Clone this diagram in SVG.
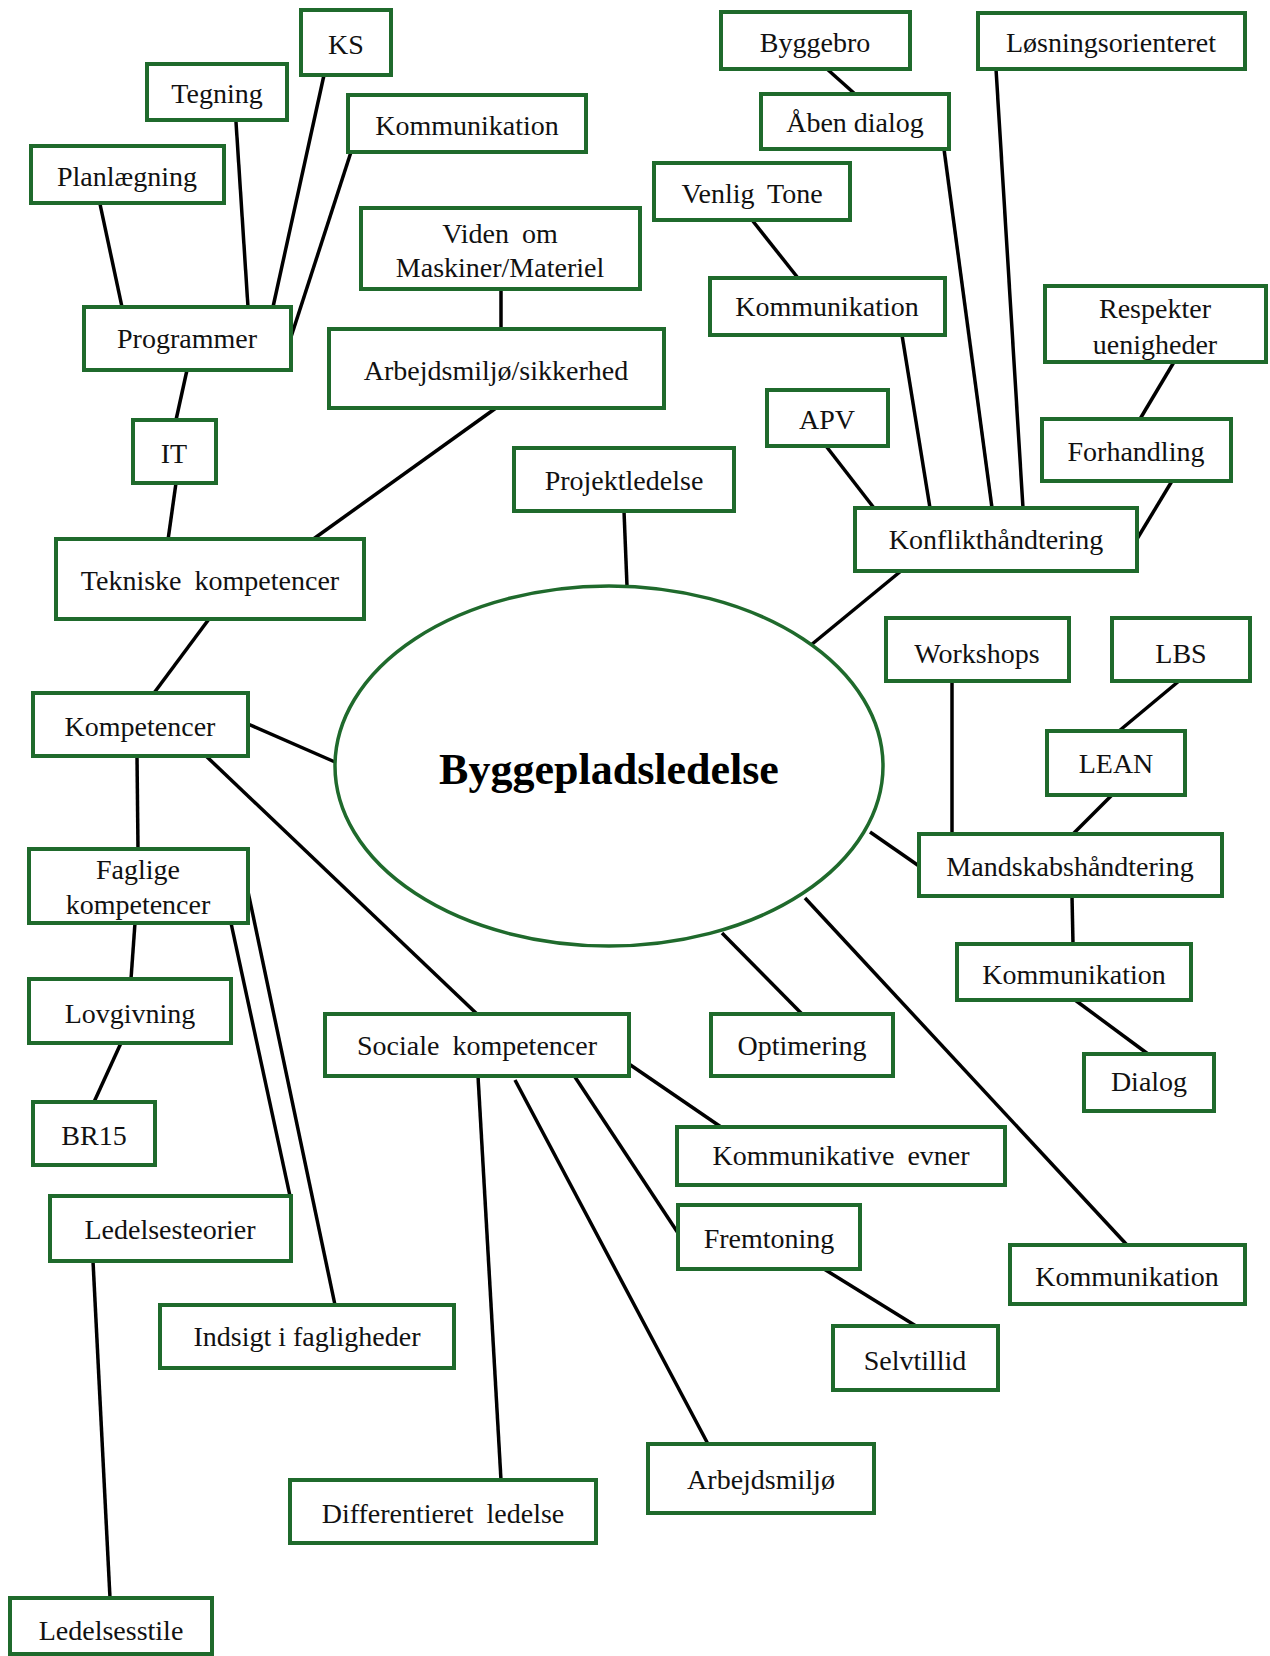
<svg xmlns="http://www.w3.org/2000/svg" width="1270" height="1656" viewBox="0 0 1270 1656">
<style>
.b{fill:#fff;stroke:#1f6a2c;stroke-width:4}
.t{font-family:"Liberation Serif","Times New Roman",serif;font-size:28px;fill:#111;text-anchor:middle}
.w{word-spacing:6px}
.c line{stroke:#000;stroke-width:3.5;stroke-linecap:butt}
</style>
<rect width="1270" height="1656" fill="#fff"/>
<g class="c" id="connectors">
<line x1="100" y1="204" x2="122" y2="307"/>
<line x1="236" y1="122" x2="248" y2="307"/>
<line x1="324" y1="75" x2="273" y2="307"/>
<line x1="351" y1="152" x2="291" y2="337"/>
<line x1="501" y1="289" x2="501" y2="330"/>
<line x1="187" y1="370" x2="176" y2="420"/>
<line x1="176" y1="483" x2="168" y2="540"/>
<line x1="496" y1="408" x2="312" y2="540"/>
<line x1="624" y1="511" x2="627" y2="586"/>
<line x1="827" y1="69" x2="855" y2="94"/>
<line x1="944" y1="149" x2="992" y2="508"/>
<line x1="996" y1="69" x2="1023" y2="508"/>
<line x1="752" y1="220" x2="798" y2="278"/>
<line x1="902" y1="335" x2="930" y2="508"/>
<line x1="1174" y1="362" x2="1140" y2="419"/>
<line x1="826" y1="446" x2="874" y2="508"/>
<line x1="1172" y1="481" x2="1137" y2="539"/>
<line x1="901" y1="571" x2="811" y2="645"/>
<line x1="952" y1="681" x2="952" y2="834"/>
<line x1="1179" y1="681" x2="1119" y2="731"/>
<line x1="1112" y1="795" x2="1073" y2="834"/>
<line x1="870" y1="832" x2="919" y2="866"/>
<line x1="1072" y1="896" x2="1073" y2="944"/>
<line x1="1075" y1="1000" x2="1148" y2="1054"/>
<line x1="722" y1="933" x2="802" y2="1014"/>
<line x1="805" y1="898" x2="1127" y2="1245"/>
<line x1="209" y1="619" x2="154" y2="693"/>
<line x1="248" y1="724" x2="335" y2="762"/>
<line x1="137" y1="756" x2="138" y2="849"/>
<line x1="206" y1="756" x2="477" y2="1014"/>
<line x1="135" y1="923" x2="131" y2="979"/>
<line x1="121" y1="1043" x2="94" y2="1102"/>
<line x1="231" y1="923" x2="290" y2="1196"/>
<line x1="246" y1="882" x2="335" y2="1305"/>
<line x1="93" y1="1261" x2="110" y2="1598"/>
<line x1="478" y1="1076" x2="501" y2="1480"/>
<line x1="515" y1="1080" x2="708" y2="1444"/>
<line x1="573" y1="1074" x2="680" y2="1236"/>
<line x1="629" y1="1064" x2="721" y2="1127"/>
<line x1="824" y1="1269" x2="916" y2="1326"/>
</g>
<g id="center"><ellipse cx="609" cy="766" rx="274" ry="180" fill="#fff" stroke="#1f6a2c" stroke-width="3.5"/><text x="609" y="784" style="font-family:'Liberation Serif','Times New Roman',serif;font-size:44px;font-weight:bold;text-anchor:middle;fill:#000">Byggepladsledelse</text></g>
<g id="n1"><rect class="b" x="301" y="10" width="90" height="65"/><text class="t" x="346" y="54">KS</text></g>
<g id="n2"><rect class="b" x="147" y="64" width="140" height="56"/><text class="t" x="217" y="103">Tegning</text></g>
<g id="n3"><rect class="b" x="348" y="95" width="238" height="57"/><text class="t" x="467" y="135">Kommunikation</text></g>
<g id="n4"><rect class="b" x="31" y="146" width="193" height="57"/><text class="t" x="127" y="186">Planlægning</text></g>
<g id="n5"><rect class="b" x="361" y="208" width="279" height="81"/><text class="t w" x="500" y="243">Viden om</text><text class="t" x="500" y="277">Maskiner/Materiel</text></g>
<g id="n6"><rect class="b" x="84" y="307" width="207" height="63"/><text class="t" x="187" y="348">Programmer</text></g>
<g id="n7"><rect class="b" x="329" y="329" width="335" height="79"/><text class="t" x="496" y="380">Arbejdsmiljø/sikkerhed</text></g>
<g id="n8"><rect class="b" x="133" y="420" width="83" height="63"/><text class="t" x="174" y="463">IT</text></g>
<g id="n9"><rect class="b" x="514" y="448" width="220" height="63"/><text class="t" x="624" y="490">Projektledelse</text></g>
<g id="n10"><rect class="b" x="56" y="539" width="308" height="80"/><text class="t w" x="210" y="590">Tekniske kompetencer</text></g>
<g id="n11"><rect class="b" x="721" y="12" width="189" height="57"/><text class="t" x="815" y="52">Byggebro</text></g>
<g id="n12"><rect class="b" x="978" y="13" width="267" height="56"/><text class="t" x="1111" y="52">Løsningsorienteret</text></g>
<g id="n13"><rect class="b" x="761" y="94" width="188" height="55"/><text class="t" x="855" y="132">Åben dialog</text></g>
<g id="n14"><rect class="b" x="654" y="163" width="196" height="57"/><text class="t w" x="752" y="203">Venlig Tone</text></g>
<g id="n15"><rect class="b" x="710" y="278" width="235" height="57"/><text class="t" x="827" y="316">Kommunikation</text></g>
<g id="n16"><rect class="b" x="1045" y="286" width="221" height="76"/><text class="t" x="1155" y="318">Respekter</text><text class="t" x="1155" y="354">uenigheder</text></g>
<g id="n17"><rect class="b" x="767" y="390" width="121" height="56"/><text class="t" x="827" y="429">APV</text></g>
<g id="n18"><rect class="b" x="1042" y="419" width="189" height="62"/><text class="t" x="1136" y="461">Forhandling</text></g>
<g id="n19"><rect class="b" x="855" y="508" width="282" height="63"/><text class="t" x="996" y="549">Konflikthåndtering</text></g>
<g id="n20"><rect class="b" x="33" y="693" width="215" height="63"/><text class="t" x="140" y="736">Kompetencer</text></g>
<g id="n21"><rect class="b" x="29" y="849" width="219" height="74"/><text class="t" x="138" y="879">Faglige</text><text class="t" x="138" y="914">kompetencer</text></g>
<g id="n22"><rect class="b" x="29" y="979" width="202" height="64"/><text class="t" x="130" y="1023">Lovgivning</text></g>
<g id="n23"><rect class="b" x="33" y="1102" width="122" height="63"/><text class="t" x="94" y="1145">BR15</text></g>
<g id="n24"><rect class="b" x="325" y="1014" width="304" height="62"/><text class="t w" x="477" y="1055">Sociale kompetencer</text></g>
<g id="n25"><rect class="b" x="711" y="1014" width="182" height="62"/><text class="t" x="802" y="1055">Optimering</text></g>
<g id="n26"><rect class="b" x="886" y="618" width="183" height="63"/><text class="t" x="977" y="663">Workshops</text></g>
<g id="n27"><rect class="b" x="1112" y="618" width="138" height="63"/><text class="t" x="1181" y="663">LBS</text></g>
<g id="n28"><rect class="b" x="1047" y="731" width="138" height="64"/><text class="t" x="1116" y="773">LEAN</text></g>
<g id="n29"><rect class="b" x="919" y="834" width="303" height="62"/><text class="t" x="1070" y="876">Mandskabshåndtering</text></g>
<g id="n30"><rect class="b" x="957" y="944" width="234" height="56"/><text class="t" x="1074" y="984">Kommunikation</text></g>
<g id="n31"><rect class="b" x="1084" y="1054" width="130" height="57"/><text class="t" x="1149" y="1091">Dialog</text></g>
<g id="n32"><rect class="b" x="677" y="1127" width="328" height="58"/><text class="t w" x="841" y="1165">Kommunikative evner</text></g>
<g id="n33"><rect class="b" x="678" y="1205" width="182" height="64"/><text class="t" x="769" y="1248">Fremtoning</text></g>
<g id="n34"><rect class="b" x="1010" y="1245" width="235" height="59"/><text class="t" x="1127" y="1286">Kommunikation</text></g>
<g id="n35"><rect class="b" x="833" y="1326" width="165" height="64"/><text class="t" x="915" y="1370">Selvtillid</text></g>
<g id="n36"><rect class="b" x="648" y="1444" width="226" height="69"/><text class="t" x="761" y="1489">Arbejdsmiljø</text></g>
<g id="n37"><rect class="b" x="50" y="1196" width="241" height="65"/><text class="t" x="170" y="1239">Ledelsesteorier</text></g>
<g id="n38"><rect class="b" x="160" y="1305" width="294" height="63"/><text class="t" x="307" y="1346">Indsigt i fagligheder</text></g>
<g id="n39"><rect class="b" x="290" y="1480" width="306" height="63"/><text class="t w" x="443" y="1523">Differentieret ledelse</text></g>
<g id="n40"><rect class="b" x="10" y="1598" width="202" height="56"/><text class="t" x="111" y="1640">Ledelsesstile</text></g>
</svg>
